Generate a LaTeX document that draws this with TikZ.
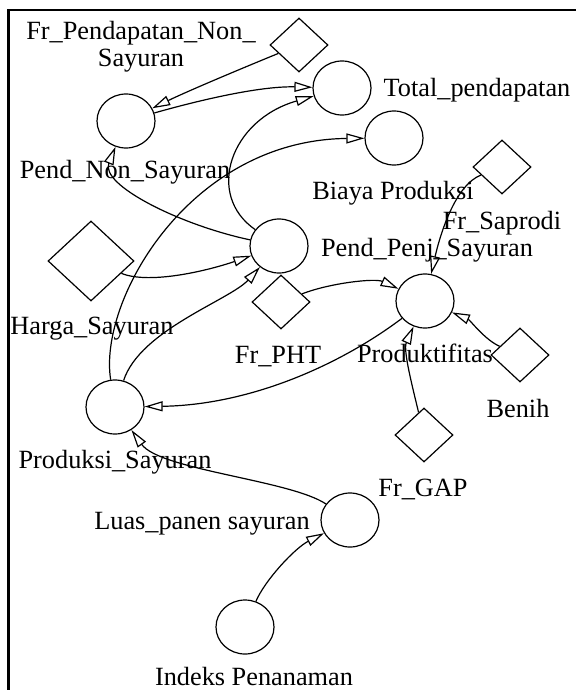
\documentclass[tikz,border=0pt]{standalone}
\usepackage{fontspec}
\setmainfont{Liberation Serif}
\usetikzlibrary{shapes.geometric,arrows.meta}
\newcommand\lblfont{\fontsize{26.3}{27}\selectfont}
\tikzset{
  var/.style={ellipse, draw, line width=1.2pt, minimum width=58pt, minimum height=54pt, inner sep=0pt},
  par/.style={diamond, draw, line width=1.2pt, minimum width=58pt, minimum height=54pt, inner sep=0pt},
  bigpar/.style={par, minimum width=86pt, minimum height=80pt},
  lbl/.style={inner sep=0pt, text height=18pt, text depth=6pt, font=\lblfont},
  link/.style={line width=1.2pt, -{Triangle[open, length=18pt, width=10pt]}},
  frame/.style={line width=2.5pt}
}
\begin{document}
\begin{tikzpicture}[x=1pt,y=-1pt]
\useasboundingbox (0,0) rectangle (576,690);
% frame
\coordinate (fbl) at (8.7,690);
\coordinate (ftl) at (8.7,10);
\coordinate (ftr) at (576,10);
\draw[frame] (fbl) -- (ftl) -- (ftr);

% stocks / variables
\node[var] (pnon) at (126,121) {};
\node[var] (total) at (342,88) {};
\node[var] (biaya) at (394,138) {};
\node[var] (ppenj) at (279,246) {};
\node[var] (prodk) at (425,301) {};
\node[var] (prods) at (115,407) {};
\node[var] (luas) at (350,520) {};
\node[var] (indeks) at (245,627) {};

% parameters
\node[par] (frpend) at (299,45) {};
\node[bigpar] (harga) at (91,261) {};
\node[par] (frpht) at (281,302) {};
\node[par] (frsap) at (502,167) {};
\node[par] (benih) at (520,355) {};
\node[par] (frgap) at (424,435) {};

% labels
\node[inner sep=0pt, font=\lblfont, align=center] (lfrpend) at (141,47) {Fr\_Pendapatan\_Non\_\\Sayuran};
\node[lbl] (lpnon) at (125,172) {Pend\_Non\_Sayuran};
\node[lbl] (ltotal) at (477,91) {Total\_pendapatan};
\node[lbl] (lbiaya) at (393,193) {Biaya Produksi};
\node[lbl] (lfrsap) at (502,223) {Fr\_Saprodi};
\node[lbl] (lppenj) at (427,250) {Pend\_Penj\_Sayuran};
\node[lbl] (lharga) at (92,328) {Harga\_Sayuran};
\node[lbl] (lfrpht) at (278,357) {Fr\_PHT};
\node[lbl] (lprodk) at (425,356) {Produktifitas};
\node[lbl] (lbenih) at (518,411) {Benih};
\node[lbl] (lprods) at (115,462) {Produksi\_Sayuran};
\node[lbl] (lfrgap) at (423,490) {Fr\_GAP};
\node[lbl] (lluas) at (202,523) {Luas\_panen sayuran};
\node[lbl] (lindeks) at (254,679) {Indeks Penanaman};

% connectors
\draw[link] (frpend) .. controls (250,65) and (190,90) .. (pnon);
\draw[link] (pnon) .. controls (200,100) and (260,86) .. (total);
\draw[link] (ppenj) .. controls (205,195) and (230,120) .. (total);
\draw[link] (prods) .. controls (98,300) and (190,140) .. (biaya);
\draw[link] (ppenj) .. controls (180,225) and (100,185) .. (pnon);
\draw[link] (harga) .. controls (150,285) and (210,270) .. (ppenj);
\draw[link] (prods) .. controls (140,330) and (230,300) .. (ppenj);
\draw[link] (frpht) .. controls (330,283) and (375,278) .. (prodk);
\draw[link] (frsap) .. controls (455,185) and (440,235) .. (prodk);
\draw[link] (benih) .. controls (485,340) and (470,320) .. (prodk);
\draw[link] (frgap) .. controls (412,385) and (403,350) .. (prodk);
\draw[link] (prodk) .. controls (340,365) and (250,405) .. (prods);
\draw[link] (luas) .. controls (290,480) and (160,470) .. (prods);
\draw[link] (indeks) .. controls (265,580) and (295,548) .. (luas);
\end{tikzpicture}
\end{document}
